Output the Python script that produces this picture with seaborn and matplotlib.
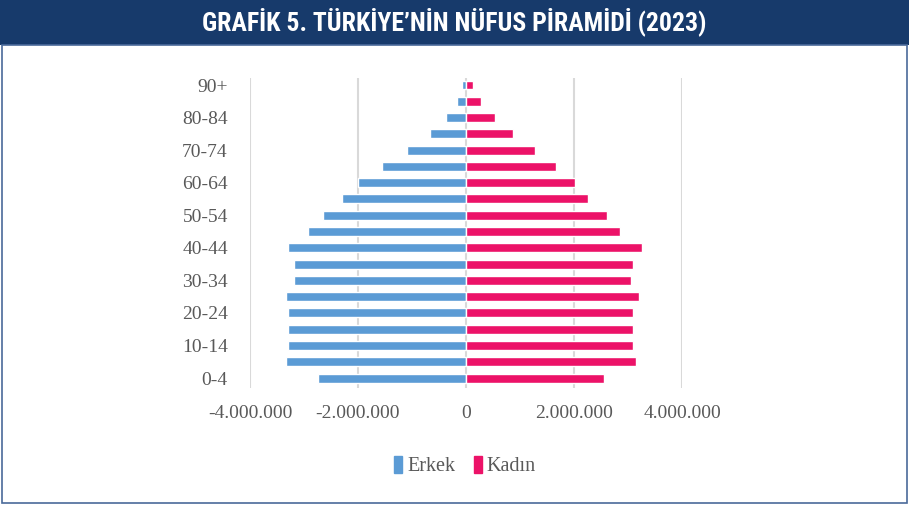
import matplotlib
matplotlib.use("Agg")
import matplotlib.pyplot as plt
import matplotlib.patches as mpatches
import seaborn as sns
import pandas as pd
from matplotlib.ticker import FuncFormatter
from matplotlib import font_manager

# ---- data (bottom to top) ----
age_groups = ["0-4", "5-9", "10-14", "15-19", "20-24", "25-29", "30-34", "35-39",
              "40-44", "45-49", "50-54", "55-59", "60-64", "65-69", "70-74",
              "75-79", "80-84", "85-89", "90+"]
male = [2740000, 3330000, 3290000, 3290000, 3290000, 3330000, 3190000, 3190000,
        3290000, 2930000, 2640000, 2290000, 2000000, 1550000, 1100000,
        660000, 363000, 167000, 67000]
female = [2560000, 3150000, 3100000, 3100000, 3100000, 3200000, 3050000, 3100000,
          3250000, 2860000, 2610000, 2260000, 2010000, 1660000, 1270000,
          867000, 528000, 275000, 126000]
x_ticks = [-4000000, -2000000, 0, 2000000, 4000000]
series_names = ["Erkek", "Kadın"]
title = "GRAFİK 5. TÜRKİYE’NİN NÜFUS PİRAMİDİ (2023)"

BLUE = "#5B9BD5"
PINK = "#EC1268"
NAVY = "#173A6B"
GRAY_TXT = "#595959"

sns.set_theme(style="white")
plt.rcParams["font.family"] = ["Liberation Serif", "DejaVu Serif"]

df = pd.DataFrame({"age": age_groups, "Erkek": [-v for v in male], "Kadın": female})
order = age_groups[::-1]  # 90+ on top

fig = plt.figure(figsize=(9.09, 5.05), dpi=100)

# title bar
fig.patches.append(mpatches.Rectangle((0, 1 - 45 / 505), 1, 45 / 505, transform=fig.transFigure,
                                      facecolor=NAVY, edgecolor="none", zorder=0))
# panel border
fig.patches.append(mpatches.Rectangle((2 / 909, 2 / 505), 905 / 909, (505 - 47) / 505,
                                      transform=fig.transFigure, facecolor="none",
                                      edgecolor="#4A6A9A", linewidth=1.2, zorder=0))
available = {f.name for f in font_manager.fontManager.ttflist}
tfam = [f for f in ["Roboto Condensed", "Liberation Sans Narrow", "Roboto", "DejaVu Sans"] if f in available]
title_size = 18.5 if tfam[0] in ("Roboto Condensed", "Liberation Sans Narrow") else 15
t = fig.text(0.5, 1 - 22 / 505, title, ha="center", va="center", color="white",
             fontsize=title_size, fontweight="bold", family=tfam)
if tfam[0] in ("Roboto", "DejaVu Sans"):
    t.set_fontstretch("condensed")

ax = fig.add_axes([250 / 909, 1 - 388 / 505, (682 - 250) / 909, 310 / 505])
sns.barplot(data=df, x="Erkek", y="age", order=order, orient="h", color=BLUE,
            width=0.55, ax=ax, saturation=1, zorder=3)
sns.barplot(data=df, x="Kadın", y="age", order=order, orient="h", color=PINK,
            width=0.55, ax=ax, saturation=1, zorder=3)

ax.set_xlim(x_ticks[0], x_ticks[-1])
ax.set_ylim(18.61, -0.43)
ax.set_xticks(x_ticks)
ax.xaxis.set_major_formatter(FuncFormatter(lambda v, p: f"{int(v):,}".replace(",", ".")))
ytick_idx = [i for i, a in enumerate(order) if age_groups.index(a) % 2 == 0]
ax.set_yticks(ytick_idx)
ax.set_yticklabels([order[i] for i in ytick_idx])
ax.set_xlabel("")
ax.set_ylabel("")
for s in ax.spines.values():
    s.set_visible(False)
ax.grid(axis="x", color="#D9D9D9", linewidth=1.5, zorder=0)
ax.grid(axis="y", visible=False)
ax.tick_params(axis="x", length=0, pad=12, labelsize=14, labelcolor=GRAY_TXT)
ax.tick_params(axis="y", length=0, pad=16, labelsize=14, labelcolor=GRAY_TXT)

handles = [mpatches.Patch(color=BLUE, label=series_names[0]),
           mpatches.Patch(color=PINK, label=series_names[1])]
leg = fig.legend(handles=handles, loc="center", bbox_to_anchor=(465 / 909, 1 - 466 / 505),
                 ncol=2, frameon=False, fontsize=14.5, handlelength=0.4, handleheight=0.9,
                 handletextpad=0.25, columnspacing=0.9)
for t2 in leg.get_texts():
    t2.set_color(GRAY_TXT)

fig.savefig("out.png", dpi=100)
